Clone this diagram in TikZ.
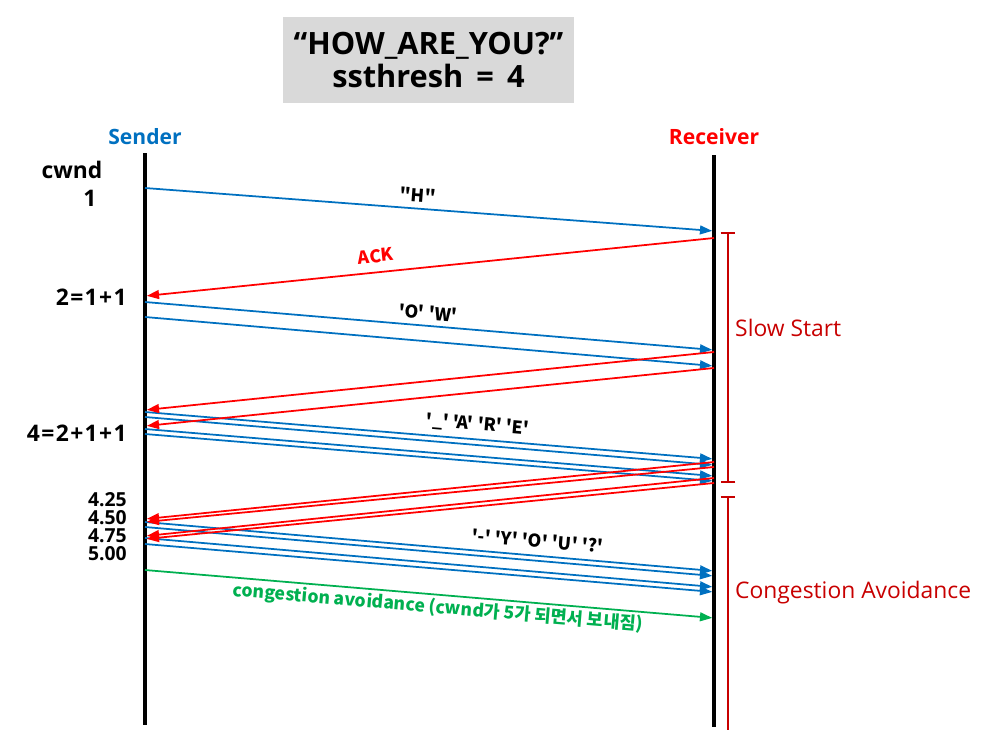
\documentclass[tikz,border=0pt]{standalone}
\usepackage{fontspec}
\setmainfont{Open Sans}
\newfontfamily\krfont{Noto Sans CJK KR}
\usepackage{tikz}
\usetikzlibrary{arrows.meta}
\definecolor{PktBlue}{RGB}{0,112,192}
\definecolor{AckRed}{RGB}{255,0,0}
\definecolor{CaGreen}{RGB}{0,176,80}
\definecolor{PhaseRed}{RGB}{200,0,0}
\definecolor{BoxGray}{RGB}{217,217,217}
\newcommand{\sk}{\kern0.8pt}

\begin{document}
\begin{tikzpicture}[x=0.02cm,y=-0.02cm,
        life/.style={line width=2.3pt,black},
        pkt/.style={-{Triangle[length=7pt,width=5pt]},line width=1pt,color=PktBlue,shorten >=1pt},
        ack/.style={-{Triangle[length=7pt,width=5pt]},line width=1pt,color=AckRed,shorten >=1pt},
        ca/.style={-{Triangle[length=7pt,width=5pt]},line width=1pt,color=CaGreen,shorten >=1pt},
        phase/.style={line width=1pt,color=PhaseRed},
        actor/.style={font=\bfseries\fontsize{12}{14}\selectfont},
        cw/.style={font=\bfseries\fontsize{13}{15}\selectfont},
        cwbig/.style={font=\bfseries\fontsize{13}{15}\selectfont,anchor=east,inner sep=0pt},
        cwsmall/.style={font=\bfseries\fontsize{11}{13}\selectfont,anchor=east,inner sep=0pt},
        lbl/.style={font=\krfont\bfseries\fontsize{10}{12}\selectfont},
        phaselbl/.style={font=\fontsize{13}{15}\selectfont,text=PhaseRed,anchor=west},
        titlebox/.style={fill=BoxGray,minimum width=5.82cm,minimum height=1.72cm,
                         inner sep=0pt,align=center,font=\bfseries\fontsize{17.5}{19}\selectfont}
      ]
        \useasboundingbox (0,0) rectangle (1006,755);
        % title
        \node[titlebox] (title) at (428.5,60) {“HOW\_ARE\_YOU?”\\ssthresh\ \,=\ \,4};
        % lifelines
        \node[actor,text=PktBlue] (snd) at (145,137) {Sender};
        \node[actor,text=AckRed] (rcv) at (714,137) {Receiver};
        \draw[life] (snd |- 0,153) -- (snd |- 0,725);
        \draw[life] (rcv |- 0,155) -- (rcv |- 0,727);
        % cwnd values
        \node[cw] (cwnd) at (72,170) {cwnd};
        \node[cw] (cw1) at (90,198) {1};
        \node[cwbig] (cw2) at (127,297) {2\sk=\sk1\sk+\sk1};
        \node[cwbig] (cw4) at (127,433) {4\sk=\sk2\sk+\sk1\sk+\sk1};
        \node[cwsmall] (cw425) at (127,500) {4.25};
        \node[cwsmall] (cw450) at (127,518) {4.50};
        \node[cwsmall] (cw475) at (127,536) {4.75};
        \node[cwsmall] (cw500) at (127,554) {5.00};
        % segments and acks
        \foreach \a/\b in {188/231,302/350,317/366,412/459,417/465,429/476,434/481,
                           522/571,527/576,538/587,544/592}
          \draw[pkt] (snd |- 0,\a) -- (rcv |- 0,\b);
        \foreach \a/\b in {238/296,352/410,368/426,462/519,467/522,478/536,483/539}
          \draw[ack] (rcv |- 0,\a) -- (snd |- 0,\b);
        \draw[ca] (snd |- 0,570) -- (rcv |- 0,618);
        % labels on arrows
        \node[lbl,rotate=-4.3] (lh) at (418,195) {"H"};
        \node[lbl,rotate=5.8,text=AckRed] (lack) at (376,256) {ACK};
        \node[lbl,rotate=-4.8] (low) at (428,313) {'O' 'W'};
        \node[lbl,rotate=-4.8] (lare) at (478,425) {'\_' 'A' 'R' 'E'};
        \node[lbl,rotate=-4.8] (lyou) at (538,541) {'-' 'Y' 'O' 'U' '?'};
        \node[lbl,rotate=-4.8,text=CaGreen] (lca) at (438,608) {congestion avoidance (cwnd가 5가 되면서 보내짐)};
        % phases
        \draw[phase,{Bar[width=8.5pt]}-{Bar[width=8.5pt]}] (728,232) -- (728,483);
        \draw[phase,{Bar[width=8.5pt]}-] (728,496) -- (728,730);
        \node[phaselbl] (ss) at (729,328) {Slow Start};
        \node[phaselbl] (cav) at (729,593) {Congestion Avoidance};
      \end{tikzpicture}
\end{document}
